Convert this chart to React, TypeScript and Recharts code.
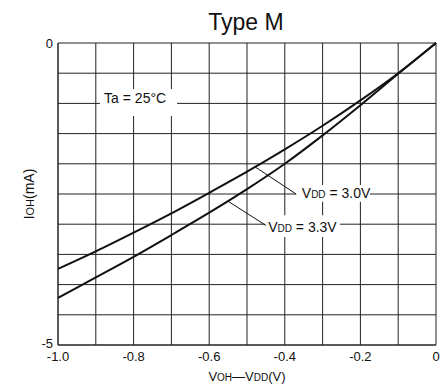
import React from 'react';
import {
  LineChart,
  Line,
  XAxis,
  YAxis,
  CartesianGrid,
  ReferenceArea,
  ReferenceLine,
  ReferenceDot,
  Label,
  Customized,
} from 'recharts';

// Output-high current vs. (VOH - VDD), Ta = 25°C
const voltage = [-1.0, -0.9, -0.8, -0.7, -0.6, -0.5, -0.4, -0.3, -0.2, -0.1, 0];
const iohVdd30 = [-3.74, -3.45, -3.14, -2.82, -2.48, -2.13, -1.76, -1.37, -0.95, -0.5, 0];
const iohVdd33 = [-4.22, -3.88, -3.54, -3.18, -2.81, -2.42, -2.0, -1.53, -1.03, -0.51, 0];

const xGridTicks = [-1.0, -0.9, -0.8, -0.7, -0.6, -0.5, -0.4, -0.3, -0.2, -0.1, 0];
const xTickLabels: Record<string, string> = {
  '-1': '-1.0',
  '-0.8': '-0.8',
  '-0.6': '-0.6',
  '-0.4': '-0.4',
  '-0.2': '-0.2',
  '0': '0',
};
const yGridTicks = [-5, -4.5, -4, -3.5, -3, -2.5, -2, -1.5, -1, -0.5, 0];
const yTickLabels: Record<string, string> = { '-5': '-5', '0': '0' };

const data = voltage.map((v, i) => ({ v, a: iohVdd30[i], b: iohVdd33[i] }));

const FONT = '"Liberation Sans", Arial, Helvetica, sans-serif';
const INK = '#111';
const GRID = '#222';

const Title = () => (
  <text x={246} y={30} textAnchor="middle" fontFamily={FONT} fontSize={23} fill={INK}>
    Type M
  </text>
);

const labelText = (main: string, small: string, rest: string) =>
  (p: any) => (
    <text x={p.cx} y={p.cy} fontFamily={FONT} fontSize={14} fill={INK}>
      <tspan>{main}</tspan>
      <tspan fontSize={10}>{small}</tspan>
      <tspan>{rest}</tspan>
    </text>
  );

const YTick = (p: any) => {
  const text = yTickLabels[String(p.payload.value)] ?? '';
  if (!text) return null;
  // the bottom label sits a touch higher so it clears the x tick below it
  const dy = p.payload.value === -5 ? -2 : 0;
  return (
    <text
      x={p.x}
      y={p.y + dy}
      dy="0.355em"
      textAnchor="end"
      fontFamily={FONT}
      fontSize={13}
      fill={INK}
    >
      {text}
    </text>
  );
};

export default function App() {
  return (
    <div style={{ position: 'absolute', left: 0, top: 0 }}>
      <LineChart
        width={443}
        height={388}
        data={data}
        margin={{ top: 43, right: 7, bottom: 0, left: 0 }}
      >
        <CartesianGrid stroke={GRID} strokeWidth={1} horizontal vertical />
        <XAxis
          dataKey="v"
          type="number"
          domain={[-1, 0]}
          ticks={xGridTicks}
          interval={0}
          height={43}
          tickSize={0}
          tickMargin={7}
          axisLine={{ stroke: GRID }}
          tickLine={false}
          tick={{ fontFamily: FONT, fontSize: 13, fill: INK }}
          tickFormatter={(t: number) => xTickLabels[String(Math.round(t * 10) / 10)] ?? ''}
        >
          <Label
            content={(p: any) => {
              const vb = p.viewBox;
              return (
                <text
                  x={vb.x + vb.width / 2}
                  y={381}
                  textAnchor="middle"
                  fontFamily={FONT}
                  fontSize={13}
                  fill={INK}
                >
                  <tspan>V</tspan>
                  <tspan fontSize={10}>OH</tspan>
                  <tspan>—V</tspan>
                  <tspan fontSize={10}>DD</tspan>
                  <tspan>(V)</tspan>
                </text>
              );
            }}
          />
        </XAxis>
        <YAxis
          type="number"
          domain={[-5, 0]}
          ticks={yGridTicks}
          interval={0}
          width={58}
          tickSize={0}
          tickMargin={5}
          axisLine={{ stroke: GRID }}
          tickLine={false}
          tick={<YTick />}
        >
          <Label
            content={(p: any) => {
              const vb = p.viewBox;
              const cy = vb.y + vb.height / 2;
              return (
                <text
                  x={34}
                  y={cy}
                  textAnchor="middle"
                  transform={`rotate(-90, 34, ${cy})`}
                  fontFamily={FONT}
                  fontSize={14}
                  fill={INK}
                >
                  <tspan>I</tspan>
                  <tspan fontSize={11}>OH</tspan>
                  <tspan>(mA)</tspan>
                </text>
              );
            }}
          />
        </YAxis>

        {/* white plates behind the annotations */}
        <ReferenceArea x1={-0.889} x2={-0.685} y1={-1.21} y2={-0.76} fill="#fff" fillOpacity={1} stroke="none" />
        <ReferenceArea x1={-0.37} x2={-0.175} y1={-2.63} y2={-2.35} fill="#fff" fillOpacity={1} stroke="none" />
        <ReferenceArea x1={-0.452} x2={-0.254} y1={-3.21} y2={-2.85} fill="#fff" fillOpacity={1} stroke="none" />

        {/* leader lines */}
        <ReferenceLine segment={[{ x: -0.479, y: -2.05 }, { x: -0.37, y: -2.5 }]} stroke={INK} strokeWidth={1} />
        <ReferenceLine segment={[{ x: -0.55, y: -2.62 }, { x: -0.45, y: -3.02 }]} stroke={INK} strokeWidth={1} />

        <ReferenceDot x={-0.878} y={-1.0} r={0} shape={labelText('Ta = 25°C', '', '')} />
        <ReferenceDot x={-0.355} y={-2.566} r={0} shape={labelText('V', 'DD', ' = 3.0V')} />
        <ReferenceDot x={-0.444} y={-3.13} r={0} shape={labelText('V', 'DD', ' = 3.3V')} />

        <Line
          type="monotone"
          dataKey="a"
          stroke={INK}
          strokeWidth={2}
          dot={false}
          isAnimationActive={false}
        />
        <Line
          type="monotone"
          dataKey="b"
          stroke={INK}
          strokeWidth={2}
          dot={false}
          isAnimationActive={false}
        />
        <Customized component={Title} />
      </LineChart>
    </div>
  );
}
